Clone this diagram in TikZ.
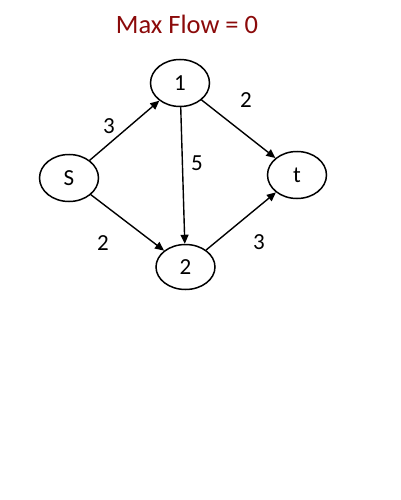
\documentclass[tikz,border=0pt]{standalone}
\usepackage{fontspec}
\setmainfont{Carlito}
\usetikzlibrary{shapes.geometric,arrows.meta}
\definecolor{titlered}{HTML}{8B0A0A}
\begin{document}
\begin{tikzpicture}[x=1pt,y=-1pt,
  vert/.style={draw=black,line width=1.5pt,ellipse,minimum width=59pt,minimum height=47pt,inner sep=0pt,font=\fontsize{23}{27}\selectfont},
  edge/.style={draw=black,line width=1.4pt,-{Triangle[length=9pt,width=8pt]}},
  wlab/.style={font=\fontsize{23}{27}\selectfont,inner sep=0pt}]
\useasboundingbox (0,0) rectangle (400,500);
\node[font=\fontsize{26.5}{32}\selectfont,text=titlered] (title) at (187,24) {Max Flow = 0};
\node[vert] (s) at (69,178) {S};
\node[vert] (n1) at (180,83) {1};
\node[vert] (t) at (297,175) {t};
\node[vert,minimum height=45pt] (n2) at (185.5,267) {2};
\draw[edge] (s) -- (n1);
\draw[edge] (n1) -- (t);
\draw[edge] (n1) -- (n2);
\draw[edge] (s) -- (n2);
\draw[edge] (n2) -- (t);
\node[wlab] (w1) at (109,126) {3};
\node[wlab] (w2) at (246,100) {2};
\node[wlab] (w3) at (197,163) {5};
\node[wlab] (w4) at (103,243) {2};
\node[wlab] (w5) at (259,242) {3};
\end{tikzpicture}
\end{document}
